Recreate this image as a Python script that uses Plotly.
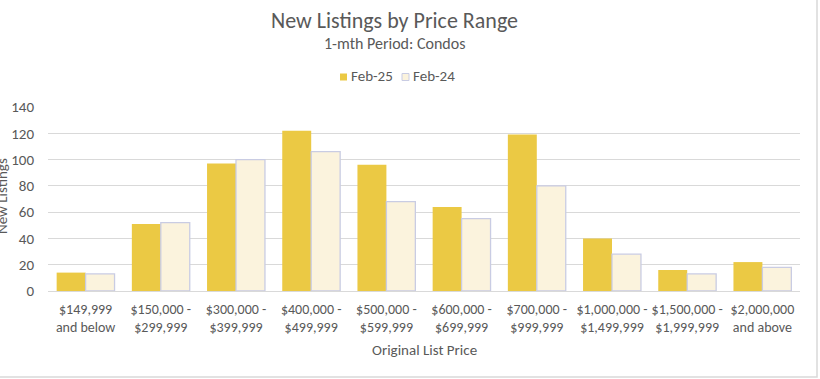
import plotly.graph_objects as go

categories = ["$149,999<br>and below", "$150,000 -<br>$299,999", "$300,000 -<br>$399,999",
              "$400,000 -<br>$499,999", "$500,000 -<br>$599,999", "$600,000 -<br>$699,999",
              "$700,000 -<br>$999,999", "$1,000,000 -<br>$1,499,999", "$1,500,000 -<br>$1,999,999",
              "$2,000,000<br>and above"]
feb25 = [14, 51, 97, 122, 96, 64, 119, 40, 16, 22]
feb24 = [13, 52, 100, 106, 68, 55, 80, 28, 13, 18]
y_ticks = [0, 20, 40, 60, 80, 100, 120, 140]
series_names = ["Feb-25", "Feb-24"]
series_colors = ["#EBC944", "#FBF3DD"]
series_lines = ["#EBC944", "#C9CCE3"]

FONT = "Calibri, Carlito, 'Open Sans', sans-serif"
TXT = "#595959"

W, H = 820, 379
# plot area, in window pixels: x 48..800, y 107..291
L, R, T, B = 48, 20, 107, 88
PW, PH = W - L - R, H - T - B


def px_x(px):
    return (px - L) / PW


def px_y(py):
    return (H - B - py) / PH


fig = go.Figure()
for name, vals, col, lc in zip(series_names, [feb25, feb24], series_colors, series_lines):
    fig.add_trace(go.Bar(name=name, x=categories, y=vals, showlegend=False,
                         marker=dict(color=col, line=dict(color=lc, width=1.3 if lc != col else 0))))

# compact legend drawn like the reference (small square + label)
legend_x = [340, 402]
shapes = []
annotations = []
for name, col, lc, lx in zip(series_names, series_colors, series_lines, legend_x):
    shapes.append(dict(type="rect", xref="paper", yref="paper",
                       x0=px_x(lx), x1=px_x(lx + 7), y0=px_y(80.5), y1=px_y(73.5),
                       fillcolor=col, line=dict(color=lc, width=1 if lc != col else 0)))
    annotations.append(dict(text=name, xref="paper", yref="paper",
                            x=px_x(lx + 9), y=px_y(76), xanchor="left", yanchor="middle",
                            showarrow=False, font=dict(size=15, color=TXT)))

annotations += [
    dict(text="New Listings by Price Range", xref="paper", yref="paper",
         x=px_x(394), y=px_y(20), xanchor="center", yanchor="middle", showarrow=False,
         font=dict(size=22, color=TXT)),
    dict(text="1-mth Period: Condos", xref="paper", yref="paper",
         x=px_x(394), y=px_y(43), xanchor="center", yanchor="middle", showarrow=False,
         font=dict(size=16, color=TXT)),
    dict(text="Original List Price", xref="paper", yref="paper",
         x=px_x(424), y=px_y(350), xanchor="center", yanchor="middle", showarrow=False,
         font=dict(size=15, color=TXT)),
    dict(text="New Listings", xref="paper", yref="paper", textangle=-90,
         x=px_x(2), y=px_y(196), xanchor="center", yanchor="middle", showarrow=False,
         font=dict(size=15, color=TXT)),
]

shapes.append(dict(type="rect", xref="paper", yref="paper",
                   x0=px_x(-20), x1=px_x(817), y0=px_y(377), y1=px_y(-20),
                   line=dict(color="#D9D9D9", width=1.5), fillcolor="rgba(0,0,0,0)",
                   layer="below"))

fig.update_layout(
    width=W, height=H,
    margin=dict(l=L, r=R, t=T, b=B, autoexpand=False),
    paper_bgcolor="white", plot_bgcolor="white",
    font=dict(family=FONT, color=TXT, size=14),
    barmode="group", bargap=0.23, bargroupgap=0.0,
    showlegend=False,
    xaxis=dict(tickfont=dict(size=14, color=TXT), showgrid=False, showline=False, ticks="",
               automargin=False, ticklabelstandoff=8),
    yaxis=dict(range=[0, 140], tickvals=y_ticks, showgrid=True, gridcolor="#D9D9D9",
               gridwidth=1, zeroline=True, zerolinecolor="#D9D9D9", zerolinewidth=1,
               tickfont=dict(size=15, color=TXT), ticks="", automargin=False,
               ticklabelstandoff=13),
    annotations=annotations,
    shapes=shapes,
)

fig.write_html("out.html", config={"displayModeBar": False},
               post_script="document.body.style.margin='0px';")
